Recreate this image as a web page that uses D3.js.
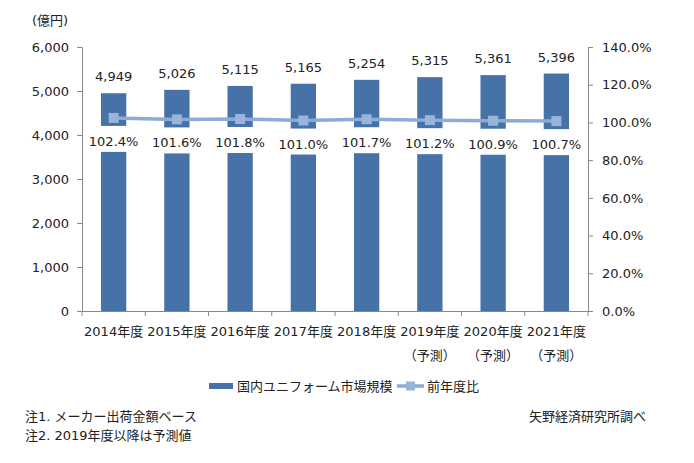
<!DOCTYPE html>
<html>
<head>
<meta charset="utf-8">
<script src="https://cdn.jsdelivr.net/npm/d3@7"></script>
<style>
body { margin: 0; background: #fff; }
text { font-family: "DejaVu Sans", "Noto Sans CJK JP", sans-serif; fill: #222; }
</style>
</head>
<body>
<div id="chart"></div>
<script>
var years = ["2014年度", "2015年度", "2016年度", "2017年度", "2018年度", "2019年度", "2020年度", "2021年度"];
var forecast = ["", "", "", "", "", "（予測）", "（予測）", "（予測）"];
var marketSize = [4949, 5026, 5115, 5165, 5254, 5315, 5361, 5396];
var yoy = [102.4, 101.6, 101.8, 101.0, 101.7, 101.2, 100.9, 100.7];
var leftTicks = [0, 1000, 2000, 3000, 4000, 5000, 6000];
var rightTicks = [0, 20, 40, 60, 80, 100, 120, 140];

var width = 694, height = 463;
var barColor = "#4672a7", lineColor = "#8eaad6", markColor = "#9ab5dc", axisColor = "#888";

var svg = d3.select("#chart").append("svg")
	.attr("width", width)
	.attr("height", height);

var x = d3.scaleBand().domain(years).range([82, 588]).padding(0);
var y = d3.scaleLinear().domain([0, 6000]).range([311, 47]);
var yR = d3.scaleLinear().domain([0, 140]).range([311, 47]);
var fmt = d3.format(",");
var barW = x.bandwidth() * 0.4;

// axes
var leftAxis = svg.append("g").attr("transform", "translate(82,0)")
	.call(d3.axisLeft(y).tickValues(leftTicks).tickFormat(fmt).tickSize(5).tickPadding(8));
var rightAxis = svg.append("g").attr("transform", "translate(588,0)")
	.call(d3.axisRight(yR).tickValues(rightTicks).tickFormat(function(d) { return d.toFixed(1) + "%"; }).tickSize(5).tickPadding(9));
var bottomAxis = svg.append("g").attr("transform", "translate(0,311)")
	.call(d3.axisBottom(x).tickSize(0).tickFormat(""));

[leftAxis, rightAxis, bottomAxis].forEach(function(g) {
	g.select(".domain").attr("stroke", axisColor);
	g.selectAll(".tick line").attr("stroke", axisColor);
	g.selectAll(".tick text").style("font-size", "13px").attr("fill", "#222");
});

// category boundary ticks
svg.append("g").selectAll("line")
	.data(d3.range(years.length + 1))
	.enter().append("line")
	.attr("x1", function(i) { return 82 + i * x.step(); })
	.attr("x2", function(i) { return 82 + i * x.step(); })
	.attr("y1", 311).attr("y2", 316)
	.attr("stroke", axisColor);

// category labels
var cat = svg.append("g");
cat.selectAll("text.yr")
	.data(years)
	.enter().append("text")
	.attr("class", "yr")
	.attr("x", function(d) { return x(d) + x.bandwidth() / 2; })
	.attr("y", 336)
	.attr("text-anchor", "middle")
	.style("font-size", "13px")
	.text(function(d) { return d; });
cat.selectAll("text.fc")
	.data(forecast)
	.enter().append("text")
	.attr("class", "fc")
	.attr("x", function(d, i) { return x(years[i]) + x.bandwidth() / 2; })
	.attr("y", 360)
	.attr("text-anchor", "middle")
	.style("font-size", "13px")
	.text(function(d) { return d; });

// bars
svg.append("g").selectAll("rect")
	.data(marketSize)
	.enter().append("rect")
	.attr("x", function(d, i) { return x(years[i]) + x.bandwidth() / 2 - barW / 2; })
	.attr("y", function(d) { return y(d); })
	.attr("width", barW)
	.attr("height", function(d) { return y(0) - y(d); })
	.attr("fill", barColor);

// bar value labels
svg.append("g").selectAll("text")
	.data(marketSize)
	.enter().append("text")
	.attr("x", function(d, i) { return x(years[i]) + x.bandwidth() / 2; })
	.attr("y", function(d) { return y(d) - 12; })
	.attr("text-anchor", "middle")
	.style("font-size", "13px")
	.text(function(d) { return fmt(d); });

// percentage label boxes (white background)
var pl = svg.append("g");
pl.selectAll("rect")
	.data(yoy)
	.enter().append("rect")
	.attr("x", function(d, i) { return x(years[i]) + x.bandwidth() / 2 - 29; })
	.attr("y", function(d) { return yR(d) + 8; })
	.attr("width", 58)
	.attr("height", 26)
	.attr("fill", "#fff");
pl.selectAll("text")
	.data(yoy)
	.enter().append("text")
	.attr("x", function(d, i) { return x(years[i]) + x.bandwidth() / 2; })
	.attr("y", function(d) { return yR(d) + 28; })
	.attr("text-anchor", "middle")
	.style("font-size", "13px")
	.text(function(d) { return d.toFixed(1) + "%"; });

// line
var line = d3.line()
	.x(function(d, i) { return x(years[i]) + x.bandwidth() / 2; })
	.y(function(d) { return yR(d); });
svg.append("path")
	.datum(yoy)
	.attr("d", line)
	.attr("fill", "none")
	.attr("stroke", lineColor)
	.attr("stroke-width", 3.5);
svg.append("g").selectAll("rect")
	.data(yoy)
	.enter().append("rect")
	.attr("x", function(d, i) { return x(years[i]) + x.bandwidth() / 2 - 5; })
	.attr("y", function(d) { return yR(d) - 5; })
	.attr("width", 10)
	.attr("height", 10)
	.attr("fill", markColor);

// unit
svg.append("text").attr("x", 32).attr("y", 25).style("font-size", "13px").text("(億円)");

// legend
var lg = svg.append("g");
lg.append("rect").attr("x", 209).attr("y", 383).attr("width", 24).attr("height", 6).attr("fill", barColor);
lg.append("text").attr("x", 237).attr("y", 391).style("font-size", "13px").text("国内ユニフォーム市場規模");
lg.append("line").attr("x1", 397).attr("x2", 424).attr("y1", 386).attr("y2", 386)
	.attr("stroke", lineColor).attr("stroke-width", 3.5);
lg.append("rect").attr("x", 406).attr("y", 381.5).attr("width", 9).attr("height", 9).attr("fill", markColor);
lg.append("text").attr("x", 427).attr("y", 391).style("font-size", "13px").text("前年度比");

// notes
svg.append("text").attr("x", 25).attr("y", 421).style("font-size", "13px").text("注1. メーカー出荷金額ベース");
svg.append("text").attr("x", 25).attr("y", 440).style("font-size", "13px").text("注2. 2019年度以降は予測値");
svg.append("text").attr("x", 529).attr("y", 421).style("font-size", "13px").text("矢野経済研究所調べ");
</script>
</body>
</html>
